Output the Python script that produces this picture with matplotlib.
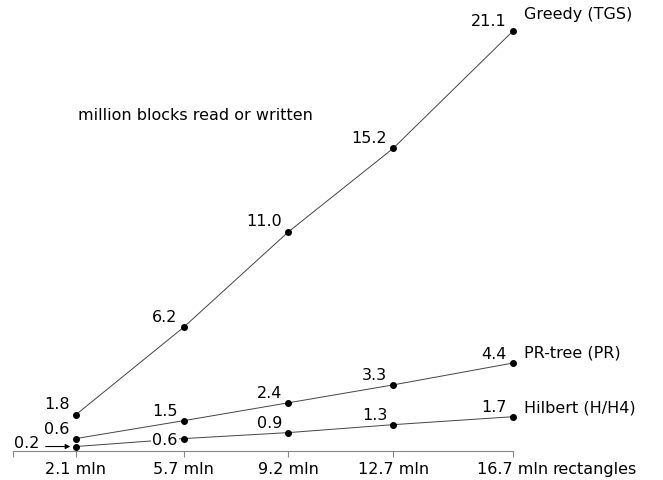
import matplotlib
matplotlib.use("Agg")
import matplotlib.pyplot as plt

plt.rcParams['font.family'] = ['DejaVu Sans']

x_vals = [2.1, 5.7, 9.2, 12.7, 16.7]
tick_labels = ["2.1 mln", "5.7 mln", "9.2 mln", "12.7 mln", "16.7 mln"]
greedy = [1.8, 6.2, 11.0, 15.2, 21.1]
prtree = [0.6, 1.5, 2.4, 3.3, 4.4]
hilbert = [0.2, 0.6, 0.9, 1.3, 1.7]
series_names = ["Greedy (TGS)", "PR-tree (PR)", "Hilbert (H/H4)"]

W, H = 663, 481
fig = plt.figure(figsize=(W/100, H/100), dpi=100)
left_px, right_px = 13, 513
bottom_px, top_px = 451.5, 32
ax = fig.add_axes([left_px/W, (H-bottom_px)/H, (right_px-left_px)/W, (bottom_px-top_px)/H])
ax.set_xlim(0, 16.7)
ax.set_ylim(0, 21.1)
for s in ['top', 'right', 'left']:
    ax.spines[s].set_visible(False)
ax.spines['bottom'].set_color('#888888')
ax.spines['bottom'].set_linewidth(0.8)
ax.set_yticks([])
ax.set_xticks([0] + x_vals)
ax.set_xticklabels([""] + tick_labels)
tick_len, tick_pad = 4, 3.5
ax.tick_params(axis='x', colors='#888888', length=tick_len, width=0.8, labelsize=11.5,
               labelcolor='black', pad=tick_pad)

fs = 11.5
for ys in (greedy, prtree, hilbert):
    ax.plot(x_vals, ys, color='#444444', lw=0.7, clip_on=False, zorder=2)
    ax.plot(x_vals, ys, 'o', color='black', ms=4.0, clip_on=False, zorder=4)

def lab(x, y, s, dx, dy, ha='right', bg=False):
    kw = {}
    if bg:
        kw['bbox'] = dict(boxstyle='square,pad=0.1', fc='white', ec='none')
    ax.annotate(s, (x, y), xytext=(dx, dy), textcoords='offset pixels',
                ha=ha, va='center', fontsize=fs, zorder=3, annotation_clip=False, **kw)

for xv, yv in zip(x_vals, greedy):
    lab(xv, yv, f"{yv:.1f}", -6, 11)
for xv, yv in zip(x_vals, prtree):
    lab(xv, yv, f"{yv:.1f}", -6, 10)
for i, (xv, yv) in enumerate(zip(x_vals, hilbert)):
    if i == 0:
        ax.annotate("", xy=(xv, yv), xytext=(-33, 0), textcoords='offset pixels',
                    arrowprops=dict(arrowstyle='-|>', color='black', lw=0.8,
                                    mutation_scale=7, shrinkB=4), annotation_clip=False)
        ax.annotate(f"{yv:.1f}", (xv, yv), xytext=(-62, 4), textcoords='offset pixels',
                    ha='left', va='center', fontsize=fs, annotation_clip=False)
    elif i == 1:
        lab(xv, yv, f"{yv:.1f}", -6, -1, bg=True)
    else:
        lab(xv, yv, f"{yv:.1f}", -6, 10)

lab(x_vals[-1], greedy[-1], series_names[0], 11, 18, ha='left')
lab(x_vals[-1], prtree[-1], series_names[1], 11, 11, ha='left')
lab(x_vals[-1], hilbert[-1], series_names[2], 11, 10, ha='left')

ax.annotate("rectangles", (x_vals[-1], 0), xytext=(39, -(tick_len + tick_pad) * 100 / 72),
            textcoords='offset pixels', ha='left', va='top', fontsize=fs,
            annotation_clip=False)

fig.text(78/W, 1 - 115/H, "million blocks read or written", fontsize=fs, ha='left', va='center')

fig.savefig("out.png", dpi=100)
